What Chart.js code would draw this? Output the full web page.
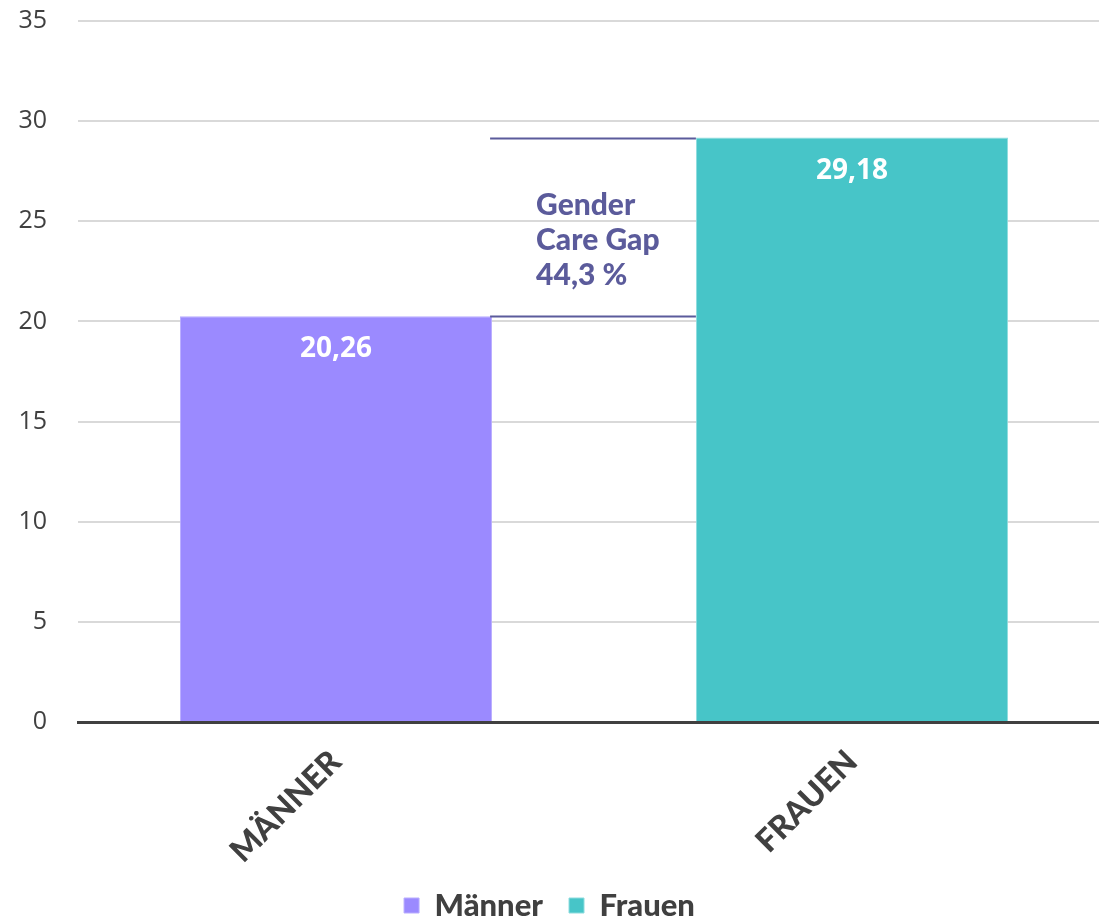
<!DOCTYPE html>
<html>
<head>
<meta charset="utf-8">
<script src="https://cdn.jsdelivr.net/npm/chart.js@4/dist/chart.umd.min.js"></script>
<style>
  html, body { margin: 0; padding: 0; background: #fff; }
  #wrap { width: 1099px; height: 920px; position: relative; }
</style>
</head>
<body>
<div id="wrap"><canvas id="careChart" width="1099" height="920"></canvas></div>
<script>
// data
const categories = ['MÄNNER', 'FRAUEN'];
const seriesNames = ['Männer', 'Frauen'];
const maennerValues = [20.26, null];
const frauenValues = [null, 29.18];
const yTicks = [0, 5, 10, 15, 20, 25, 30, 35];
const gapLines = ['Gender', 'Care Gap', '44,3 %'];

const purple = '#9b8aff';
const teal = '#47c5c8';
const darkText = '#404040';
const gapColor = '#5b5b9b';

const fmt = (v) => v.toFixed(2).replace('.', ',');

// plot area runs a little past the right edge of the canvas in the original
const widenPlot = {
  id: 'widenPlot',
  afterLayout(chart) {
    const x = chart.scales.x;
    const right = 1110;
    chart.chartArea.right = right;
    chart.chartArea.width = right - chart.chartArea.left;
    x.right = right;
    x.width = right - x.left;
    x.configure();
  }
};

// white value labels inside bar tops
const valueLabels = {
  id: 'valueLabels',
  afterDatasetsDraw(chart) {
    const ctx = chart.ctx;
    ctx.save();
    ctx.fillStyle = '#ffffff';
    ctx.font = 'bold 28px "Open Sans"';
    ctx.textAlign = 'center';
    ctx.textBaseline = 'middle';
    chart.data.datasets.forEach((ds, i) => {
      const meta = chart.getDatasetMeta(i);
      meta.data.forEach((bar, j) => {
        const v = ds.data[j];
        if (v == null) return;
        ctx.fillText(fmt(v), bar.x, bar.y + 33);
      });
    });
    ctx.restore();
  }
};

// gap bracket between the two bars
const gapBracket = {
  id: 'gapBracket',
  afterDatasetsDraw(chart) {
    const ctx = chart.ctx;
    const y = chart.scales.y;
    const b0 = chart.getDatasetMeta(0).data[0];
    const b1 = chart.getDatasetMeta(1).data[1];
    const x0 = b0.x + b0.width / 2;
    const x1 = b1.x - b1.width / 2;
    ctx.save();
    ctx.strokeStyle = gapColor;
    ctx.lineWidth = 2;
    [maennerValues[0], frauenValues[1]].forEach((v) => {
      const py = Math.round(y.getPixelForValue(v)) + 0.5;
      ctx.beginPath();
      ctx.moveTo(x0 - 2, py);
      ctx.lineTo(x1, py);
      ctx.stroke();
    });
    ctx.fillStyle = gapColor;
    ctx.font = '900 30px Lato';
    ctx.textAlign = 'left';
    ctx.textBaseline = 'middle';
    gapLines.forEach((t, i) => {
      ctx.fillText(t, x0 + 44, y.getPixelForValue(frauenValues[1]) + 68 + i * 35);
    });
    ctx.restore();
  }
};

new Chart(document.getElementById('careChart'), {
  type: 'bar',
  data: {
    labels: categories,
    datasets: [
      {
        label: seriesNames[0],
        data: maennerValues,
        backgroundColor: purple,
        borderColor: '#b9adff',
        borderWidth: 1,
      },
      {
        label: seriesNames[1],
        data: frauenValues,
        backgroundColor: teal,
        borderColor: '#8edcde',
        borderWidth: 1,
      },
    ],
  },
  options: {
    responsive: false,
    animation: false,
    maintainAspectRatio: false,
    layout: { padding: { top: 21, right: 0, left: 0, bottom: -11 } },
    datasets: {
      bar: { grouped: false, categoryPercentage: 1, barPercentage: 0.605 },
    },
    scales: {
      x: {
        grid: { display: false },
        border: { display: true, color: darkText, width: 3 },
        ticks: {
          color: darkText,
          font: { family: 'Lato', weight: '900', size: 32 },
          minRotation: 45,
          maxRotation: 45,
          padding: 13,
        },
        afterFit(scale) {
          scale.height = 142;
          scale.paddingLeft = 0;
          scale.paddingRight = 0;
        },
      },
      y: {
        min: 0,
        max: 35,
        afterBuildTicks(scale) { scale.ticks = yTicks.map((v) => ({ value: v })); },
        grid: { color: '#d9d9d9', lineWidth: 2, drawTicks: false },
        border: { display: false },
        ticks: {
          color: darkText,
          font: { family: '"Open Sans"', size: 25 },
          padding: 31,
        },
        afterFit(scale) {
          scale.width = 78;
          scale.paddingTop = 0;
          scale.paddingBottom = 0;
        },
      },
    },
    plugins: {
      tooltip: { enabled: false },
      legend: {
        position: 'bottom',
        labels: {
          color: darkText,
          font: { family: 'Lato', weight: '900', size: 31 },
          boxWidth: 15,
          boxHeight: 15,
          padding: 26,
        },
      },
    },
  },
  plugins: [widenPlot, valueLabels, gapBracket],
});
</script>
</body>
</html>
